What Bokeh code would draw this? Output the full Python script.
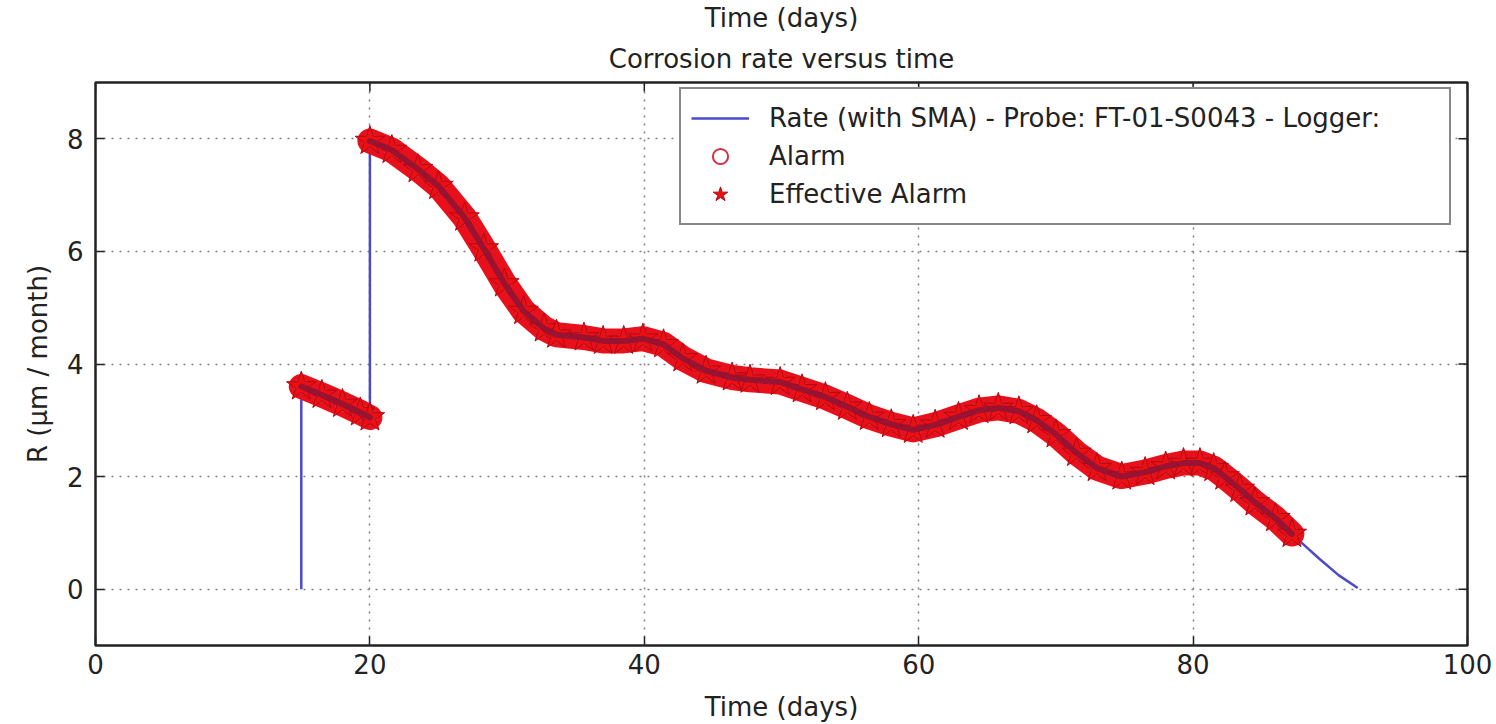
from bokeh.plotting import figure
from bokeh.models import Range1d, Title, Legend, LegendItem, FixedTicker
from bokeh.embed import file_html
from bokeh.resources import INLINE

# ---- data ----
seg1_x = [15.0, 16.5, 18.0, 19.3, 20.0]
seg1_y = [3.60, 3.45, 3.29, 3.14, 3.05]

seg2_x = [20.0, 21.6, 23.5, 25.0, 26.9, 28.3, 29.8, 31.2, 32.7, 33.6, 35.6, 37.0,
          38.5, 39.9, 41.4, 42.8, 44.5, 46.4, 47.7, 49.9, 51.5, 53.2, 54.8, 56.4,
          58.0, 59.6, 61.2, 62.9, 64.4, 65.8, 67.3, 68.6, 70.0, 71.5, 73.0, 74.8,
          76.5, 78.0, 79.3, 80.5, 81.5, 82.3, 83.4, 84.5, 86.0, 87.2]
seg2_y = [7.96, 7.80, 7.46, 7.16, 6.60, 6.05, 5.43, 4.94, 4.63, 4.52, 4.47, 4.41,
          4.41, 4.45, 4.35, 4.10, 3.88, 3.76, 3.72, 3.68, 3.55, 3.41, 3.24, 3.06,
          2.93, 2.83, 2.92, 3.06, 3.18, 3.22, 3.16, 3.00, 2.75, 2.42, 2.15, 2.00,
          2.08, 2.18, 2.24, 2.24, 2.15, 2.00, 1.78, 1.54, 1.26, 0.98]

tail_x = [88.2, 89.2, 90.6, 92.0]
tail_y = [0.76, 0.54, 0.25, 0.02]

start_x = [15.0]
start_y = [0.0]

rate_x = start_x + seg1_x + seg2_x + tail_x
rate_y = start_y + seg1_y + seg2_y + tail_y

alarm_x = seg1_x + seg2_x
alarm_y = seg1_y + seg2_y

x_ticks = [0, 20, 40, 60, 80, 100]
y_ticks = [0, 2, 4, 6, 8]
X0, X1 = 0, 100
Y0, Y1 = -1, 9

FONT = "DejaVu Sans"
TXT = "#222222"
FS = "26px"

W, H = 1496, 724
BL, BR, BT, BB = 95, 29, 81, 77

p = figure(width=W, height=H, output_backend="svg", toolbar_location=None,
           x_range=Range1d(X0, X1), y_range=Range1d(Y0, Y1),
           min_border_left=BL, min_border_right=BR, min_border_top=BT, min_border_bottom=BB,
           x_axis_label="Time (days)", y_axis_label="R (\u03bcm / month)")

# outer line of the heading, then the title proper nearest the frame
p.title.text = "Time (days)"
p.title.align = "center"
p.title.text_font = FONT
p.title.text_font_size = FS
p.title.text_font_style = "normal"
p.title.text_color = TXT
p.title.text_line_height = 0.8
p.title.standoff = 0
p.add_layout(Title(text="Corrosion rate versus time", align="center", text_font=FONT,
                   text_font_size=FS, text_font_style="normal", text_line_height=0.8,
                   text_color=TXT, standoff=18), "above")

p.outline_line_color = "#222222"
p.outline_line_width = 2.5

for ax in (p.xaxis[0], p.yaxis[0]):
    ax.axis_line_color = None
    ax.major_tick_in = 9
    ax.major_tick_out = 0
    ax.minor_tick_line_color = None
    ax.major_tick_line_color = "#222222"
    ax.major_tick_line_width = 1.5
    ax.major_label_text_font = FONT
    ax.major_label_text_font_size = FS
    ax.major_label_text_color = TXT
    ax.axis_label_text_font = FONT
    ax.axis_label_text_font_size = FS
    ax.axis_label_text_font_style = "normal"
    ax.axis_label_text_color = TXT

p.xaxis[0].ticker = FixedTicker(ticks=x_ticks)
p.yaxis[0].ticker = FixedTicker(ticks=y_ticks)
p.xaxis[0].major_label_standoff = 8
p.xaxis[0].axis_label_standoff = 15
p.yaxis[0].major_label_standoff = 12
p.yaxis[0].axis_label_standoff = 11

# inward ticks on the top and right frame edges (9 px long)
fw = W - BL - BR
fh = H - BT - BB
tx = 9 * (X1 - X0) / fw
ty = 9 * (Y1 - Y0) / fh
p.segment(x0=x_ticks, y0=[Y1] * len(x_ticks), x1=x_ticks, y1=[Y1 - ty] * len(x_ticks),
          line_color="#222222", line_width=1.5)
p.segment(x0=[X1] * len(y_ticks), y0=y_ticks, x1=[X1 - tx] * len(y_ticks), y1=y_ticks,
          line_color="#222222", line_width=1.5)

p.xgrid.ticker = FixedTicker(ticks=x_ticks)
p.ygrid.ticker = FixedTicker(ticks=y_ticks)
for g in (p.xgrid[0], p.ygrid[0]):
    g.grid_line_color = "#808080"
    g.grid_line_dash = "2 6"
    g.grid_line_width = 1.5

# rate line (under the alarm band)
r_rate = p.line(rate_x, rate_y, line_color="#4b4bc8", line_width=2.5)

# alarm band
p.line(seg1_x, seg1_y, line_color="#e8101a", line_width=25, line_join="round", line_cap="round")
p.line(seg2_x, seg2_y, line_color="#e8101a", line_width=25, line_join="round", line_cap="round")
r_alarm = p.scatter(alarm_x, alarm_y, marker="circle", size=14, fill_color=None,
                    line_color="#d03040", line_width=2)
r_star = p.scatter(alarm_x, alarm_y, marker="star", size=31, fill_color="#ee1010",
                   line_color="#b00818", line_width=1)
p.line(seg1_x, seg1_y, line_color="#8c1436", line_alpha=0.85, line_width=6,
       line_join="round", line_cap="round")
p.line(seg2_x, seg2_y, line_color="#8c1436", line_alpha=0.85, line_width=6,
       line_join="round", line_cap="round")

legend = Legend(items=[
    LegendItem(label="Rate (with SMA) - Probe: FT-01-S0043 - Logger:", renderers=[r_rate]),
    LegendItem(label="Alarm", renderers=[r_alarm]),
    LegendItem(label="Effective Alarm", renderers=[r_star]),
], location=(584, 420))
legend.label_text_font = FONT
legend.label_text_font_size = FS
legend.label_text_color = TXT
legend.label_height = 38
legend.glyph_height = 38
legend.glyph_width = 58
legend.label_width = 670
legend.label_standoff = 20
legend.spacing = 0
legend.padding = 10
legend.margin = 0
legend.border_line_color = "#111111"
legend.border_line_width = 2.5
legend.background_fill_alpha = 1
p.add_layout(legend, "center")

open("out.html", "w").write(file_html(p, INLINE))
